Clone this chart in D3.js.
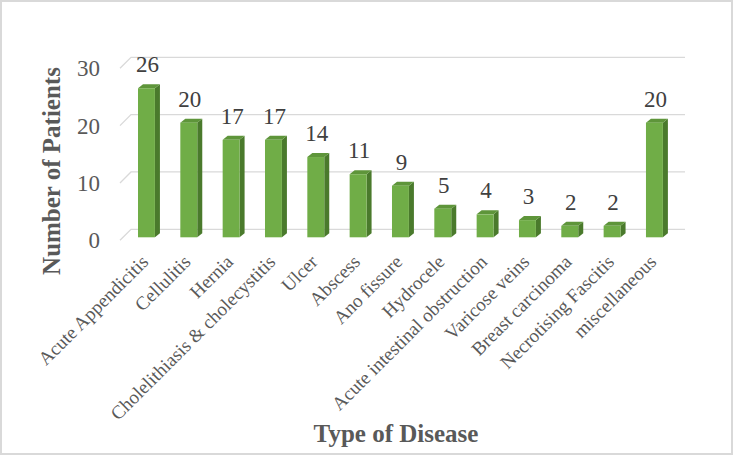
<!DOCTYPE html>
<html>
<head>
<meta charset="utf-8">
<script src="https://cdn.jsdelivr.net/npm/d3@7"></script>
<style>
	body { margin: 0; background: #fff; }
	svg text { font-family: "Liberation Serif", "Times New Roman", "DejaVu Serif", serif; }
</style>
</head>
<body>
<svg id="chart" width="737" height="457"></svg>
<script>
'use strict'

const diseases = [
	'Acute Appendicitis', 'Cellulitis', 'Hernia', 'Cholelithiasis & cholecystitis',
	'Ulcer', 'Abscess', 'Ano fissure', 'Hydrocele', 'Acute intestinal obstruction',
	'Varicose veins', 'Breast carcinoma', 'Necrotising Fascitis', 'miscellaneous'
]
const patients = [26, 20, 17, 17, 14, 11, 9, 5, 4, 3, 2, 2, 20]
const yTicks = [0, 10, 20, 30]

const serif = '"Liberation Serif", "Times New Roman", serif'
const svg = d3.select('#chart')

// outer frame
svg.append('rect')
	.attr('x', 1).attr('y', 1)
	.attr('width', 731).attr('height', 453)
	.attr('fill', '#fff')
	.attr('stroke', '#d9d9d9')
	.attr('stroke-width', 2)

const x = d3.scaleBand()
	.domain(diseases)
	.range([125.3, 675.6])
	.paddingInner(0.6)
	.paddingOuter(0.3)

const y = d3.scaleLinear()
	.domain([0, 30])
	.range([237.3, 65.3])

const depth = {dx: 5, dy: 4}

// gridlines: short diagonal on the floor side, then along the back wall
const grid = svg.append('g').attr('class', 'grid')
yTicks.forEach((t) => {
	const yf = y(t)
	grid.append('path')
		.attr('d', `M120,${yf + 3}L131,${yf - 8}L685,${yf - 8}`)
		.attr('fill', 'none')
		.attr('stroke', '#d9d9d9')
		.attr('stroke-width', 1.3)
})

// y tick labels
svg.append('g')
	.selectAll('text')
	.data(yTicks)
	.enter()
	.append('text')
	.attr('x', 100)
	.attr('y', (d) => y(d) + 3)
	.attr('dy', '0.35em')
	.attr('text-anchor', 'end')
	.attr('font-family', serif)
	.attr('font-size', 23)
	.attr('fill', '#595959')
	.text((d) => d)

// 3D bars
const bars = svg.append('g')
	.selectAll('.bar')
	.data(diseases)
	.enter()
	.append('g')
	.attr('class', 'bar')

bars.append('path')
	.attr('d', (d, i) => {
		const x1 = x(d) + x.bandwidth()
		const y0 = y(0)
		const y1 = y(patients[i])
		return `M${x1},${y0}L${x1 + depth.dx},${y0 - depth.dy}L${x1 + depth.dx},${y1 - depth.dy}L${x1},${y1}Z`
	})
	.attr('fill', '#4a7a2c')

bars.append('path')
	.attr('d', (d, i) => {
		const x0 = x(d)
		const x1 = x0 + x.bandwidth()
		const y1 = y(patients[i])
		return `M${x0},${y1}L${x0 + depth.dx},${y1 - depth.dy}L${x1 + depth.dx},${y1 - depth.dy}L${x1},${y1}Z`
	})
	.attr('fill', '#5e953a')

bars.append('rect')
	.attr('x', (d) => x(d))
	.attr('y', (d, i) => y(patients[i]))
	.attr('width', x.bandwidth())
	.attr('height', (d, i) => y(0) - y(patients[i]))
	.attr('fill', '#70ad47')

// value labels
bars.append('text')
	.attr('x', (d) => x(d) + x.bandwidth() / 2 + 1)
	.attr('y', (d, i) => y(patients[i]) - 16)
	.attr('text-anchor', 'middle')
	.attr('font-family', serif)
	.attr('font-size', 23)
	.attr('fill', '#404040')
	.text((d, i) => patients[i])

// category labels
bars.append('text')
	.attr('text-anchor', 'end')
	.attr('font-family', serif)
	.attr('font-size', 19)
	.attr('fill', '#595959')
	.attr('transform', (d) => `translate(${x(d) + x.bandwidth() / 2 + 3}, 263) rotate(-45)`)
	.text((d) => d)

// axis titles
svg.append('text')
	.attr('transform', 'translate(60, 171) rotate(-90)')
	.attr('text-anchor', 'middle')
	.attr('font-family', serif)
	.attr('font-size', 25)
	.attr('font-weight', 'bold')
	.attr('fill', '#595959')
	.text('Number of Patients')

svg.append('text')
	.attr('x', 396)
	.attr('y', 442)
	.attr('text-anchor', 'middle')
	.attr('font-family', serif)
	.attr('font-size', 25)
	.attr('font-weight', 'bold')
	.attr('fill', '#595959')
	.text('Type of Disease')
</script>
</body>
</html>
